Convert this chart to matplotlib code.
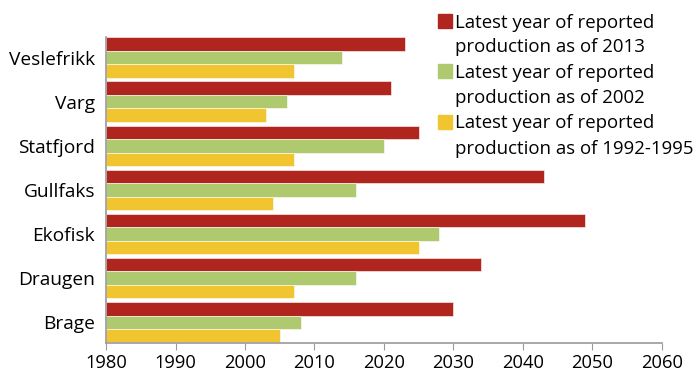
import numpy as np
import matplotlib.pyplot as plt
from matplotlib.patches import Rectangle

plt.rcParams['font.family'] = ['Open Sans', 'DejaVu Sans']

fields = ['Brage', 'Draugen', 'Ekofisk', 'Gullfaks', 'Statfjord', 'Varg', 'Veslefrikk']
as_of_2013 = [2030, 2034, 2049, 2043, 2025, 2021, 2023]
as_of_2002 = [2008, 2016, 2028, 2016, 2020, 2006, 2014]
as_of_1992_1995 = [2005, 2007, 2025, 2004, 2007, 2003, 2007]
labels = [['Latest year of reported', 'production as of 2013'],
          ['Latest year of reported', 'production as of 2002'],
          ['Latest year of reported', 'production as of 1992-1995']]
start = 1980

W, H = 699, 372
fig = plt.figure(figsize=(W / 100, H / 100), dpi=100)
ax = fig.add_axes([0.1517, 0.078, 0.795, 0.823])

y = np.arange(len(fields))
h = 0.305
series = [as_of_2013, as_of_2002, as_of_1992_1995]
colors = ['#B0261F', '#AFC96E', '#F0C530']
for k, (vals, c) in enumerate(zip(series, colors)):
    widths = np.array(vals) - start
    ax.barh(y + h * (1 - k), widths, height=h, left=start, color=c,
            edgecolor='white', linewidth=0.4)

ax.set_xlim(1980, 2060)
ax.set_ylim(-0.47, 6.47)
ax.set_xticks(np.arange(1980, 2061, 10))
ax.set_yticks(y)
ax.set_yticklabels(fields)
ax.tick_params(axis='y', length=0, labelsize=13.8, pad=8)
ax.tick_params(axis='x', length=5, color='#999999', labelsize=13.2, pad=3)
for s in ['top', 'right']:
    ax.spines[s].set_visible(False)
for s in ['left', 'bottom']:
    ax.spines[s].set_color('#999999')
    ax.spines[s].set_linewidth(1.2)

# legend drawn by hand: square next to first line of each two-line label
for k, (lines, c) in enumerate(zip(labels, colors)):
    base = 27.5 + 50.5 * k
    fig.patches.append(Rectangle((438 / W, 1 - base / H), 14 / W, 14 / H,
                                 transform=fig.transFigure, color=c))
    for j, txt in enumerate(lines):
        fig.text(455 / W, 1 - (base + 25 * j) / H, txt, fontsize=13.4,
                 va='baseline', ha='left')

fig.savefig('out.png', dpi=100)
